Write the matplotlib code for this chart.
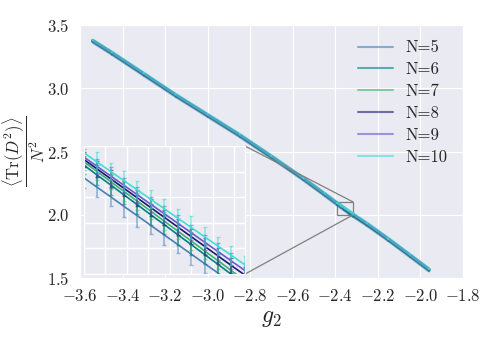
import numpy as np
import matplotlib as mpl
mpl.use('Agg')
from matplotlib import pyplot as plt
import seaborn as sns
from mpl_toolkits.axes_grid1.inset_locator import mark_inset

sns.set_style('darkgrid')
plt.rcParams['font.family'] = 'serif'
plt.rcParams['font.serif'] = ['cmr10', 'DejaVu Serif']
plt.rcParams['mathtext.fontset'] = 'cm'
plt.rcParams['axes.formatter.use_mathtext'] = True

# coupling values (coarse outside the zoom window, dense inside it)
g2 = [-3.54, -3.45, -3.30, -3.15, -3.00, -2.85, -2.70, -2.55, -2.45,
      -2.3900, -2.3838, -2.3775, -2.3713, -2.3650, -2.3588, -2.3525,
      -2.3463, -2.3400, -2.3338, -2.3275, -2.3213, -2.3150,
      -2.25, -2.15, -2.05, -1.96]

labels = ['N=5', 'N=6', 'N=7', 'N=8', 'N=9', 'N=10']
colors = ['steelblue', 'teal', 'mediumseagreen', 'midnightblue', 'slateblue', 'turquoise']

tr_n5 = [3.365, 3.269, 3.102, 2.935, 2.777, 2.619, 2.449, 2.275, 2.152,
         2.0753, 2.0678, 2.0604, 2.0529, 2.0455, 2.0380, 2.0305,
         2.0231, 2.0156, 2.0082, 2.0007, 1.9932, 1.9858,
         1.914, 1.795, 1.670, 1.556]
tr_n6 = [3.373, 3.277, 3.110, 2.943, 2.785, 2.627, 2.457, 2.283, 2.160,
         2.0852, 2.0774, 2.0697, 2.0619, 2.0541, 2.0463, 2.0386,
         2.0308, 2.0230, 2.0153, 2.0075, 1.9997, 1.9920,
         1.921, 1.802, 1.677, 1.563]
tr_n7 = [3.375, 3.279, 3.112, 2.945, 2.787, 2.629, 2.459, 2.285, 2.162,
         2.0878, 2.0801, 2.0723, 2.0646, 2.0568, 2.0491, 2.0413,
         2.0336, 2.0259, 2.0181, 2.0104, 2.0026, 1.9949,
         1.924, 1.804, 1.679, 1.565]
tr_n8 = [3.377, 3.281, 3.114, 2.947, 2.789, 2.631, 2.461, 2.287, 2.164,
         2.0896, 2.0821, 2.0745, 2.0670, 2.0594, 2.0519, 2.0443,
         2.0368, 2.0292, 2.0217, 2.0141, 2.0066, 1.9991,
         1.927, 1.807, 1.682, 1.568]
tr_n9 = [3.379, 3.283, 3.116, 2.949, 2.791, 2.633, 2.463, 2.289, 2.166,
         2.0915, 2.0841, 2.0767, 2.0693, 2.0619, 2.0545, 2.0471,
         2.0397, 2.0323, 2.0249, 2.0175, 2.0101, 2.0027,
         1.930, 1.809, 1.684, 1.570]
tr_n10 = [3.381, 3.286, 3.120, 2.952, 2.794, 2.636, 2.466, 2.292, 2.169,
          2.0948, 2.0875, 2.0802, 2.0729, 2.0656, 2.0583, 2.0510,
          2.0437, 2.0364, 2.0291, 2.0218, 2.0145, 2.0072,
          1.933, 1.813, 1.687, 1.573]

err_n5 = [0.010, 0.011, 0.009, 0.010, 0.011, 0.010, 0.009, 0.010, 0.011,
          0.0083, 0.0080, 0.0072, 0.0085, 0.0090, 0.0070, 0.0078,
          0.0065, 0.0082, 0.0075, 0.0088, 0.0070, 0.0080,
          0.010, 0.009, 0.011, 0.010]
err_n6 = [0.009, 0.010, 0.009, 0.010, 0.009, 0.010, 0.009, 0.010, 0.009,
          0.0070, 0.0076, 0.0080, 0.0068, 0.0074, 0.0082, 0.0070,
          0.0078, 0.0084, 0.0072, 0.0080, 0.0075, 0.0070,
          0.009, 0.010, 0.009, 0.010]
err_n7 = [0.008, 0.009, 0.008, 0.009, 0.008, 0.009, 0.008, 0.009, 0.008,
          0.0065, 0.0070, 0.0060, 0.0072, 0.0066, 0.0058, 0.0070,
          0.0064, 0.0068, 0.0060, 0.0066, 0.0070, 0.0062,
          0.008, 0.009, 0.008, 0.009]
err_n8 = [0.008, 0.008, 0.009, 0.008, 0.008, 0.009, 0.008, 0.008, 0.009,
          0.0060, 0.0064, 0.0068, 0.0058, 0.0062, 0.0066, 0.0060,
          0.0064, 0.0058, 0.0066, 0.0062, 0.0060, 0.0064,
          0.008, 0.008, 0.009, 0.008]
err_n9 = [0.008, 0.008, 0.008, 0.009, 0.008, 0.008, 0.009, 0.008, 0.008,
          0.0062, 0.0058, 0.0066, 0.0060, 0.0064, 0.0058, 0.0062,
          0.0066, 0.0060, 0.0058, 0.0064, 0.0062, 0.0060,
          0.008, 0.008, 0.008, 0.009]
err_n10 = [0.008, 0.009, 0.008, 0.008, 0.009, 0.008, 0.008, 0.009, 0.008,
           0.0070, 0.0075, 0.0068, 0.0078, 0.0072, 0.0070, 0.0080,
           0.0074, 0.0090, 0.0076, 0.0072, 0.0078, 0.0070,
           0.008, 0.009, 0.008, 0.008]

series = [tr_n5, tr_n6, tr_n7, tr_n8, tr_n9, tr_n10]
errors = [err_n5, err_n6, err_n7, err_n8, err_n9, err_n10]


def main():
    fig = plt.figure(figsize=(4.98, 3.43), dpi=100)
    ax = fig.add_axes([0.1606, 0.1895, 0.769, 0.7375])

    for y, e, c, lab in zip(series, errors, colors, labels):
        ax.errorbar(g2, y, yerr=e, fmt='none', ecolor=c, elinewidth=1.5, alpha=0.6)
        ax.plot(g2, y, color=c, lw=2.2, alpha=0.6, label=lab)

    ax.set_xlim(-3.6, -1.8)
    ax.set_ylim(1.5, 3.5)
    ax.set_xticks(np.arange(-3.6, -1.79, 0.2))
    ax.set_yticks(np.arange(1.5, 3.51, 0.5))
    ax.tick_params(labelsize=12, pad=4)
    ax.set_xlabel(r'$g_2$', fontsize=17, labelpad=2)
    ax.set_ylabel(r'$\dfrac{\langle \mathrm{Tr}(D^2)\rangle}{N^2}$', fontsize=12)
    ax.yaxis.set_label_coords(-0.085, 0.5)
    leg = ax.legend(loc='upper right', frameon=False, fontsize=12, handlelength=2.1,
                    handletextpad=0.8, labelspacing=0.4)
    for h in leg.get_lines():
        h.set_linewidth(1.5)

    axins = fig.add_axes([0.168, 0.201, 0.324, 0.3733])
    axins.set_facecolor('#EAEAF2')
    for y, e, c in zip(series, errors, colors):
        axins.errorbar(g2, y, yerr=e, fmt='none', ecolor=c, elinewidth=1.2,
                       capsize=1.5, alpha=0.55)
        axins.plot(g2, y, color=c, lw=1.2)
    axins.set_xlim(-2.39, -2.315)
    axins.set_ylim(2.0, 2.1)
    axins.set_xticks(np.arange(-2.39, -2.3149, 0.01))
    axins.set_yticks(np.arange(2.0, 2.101, 0.02))
    axins.tick_params(labelbottom=False, labelleft=False, length=0)
    axins.grid(True, color='white', lw=1)

    mark_inset(ax, axins, loc1=1, loc2=4, fc='none', ec='0.5', lw=0.9)

    plt.savefig('out.png', dpi=100)
    return


if __name__ == "__main__":
    main()
